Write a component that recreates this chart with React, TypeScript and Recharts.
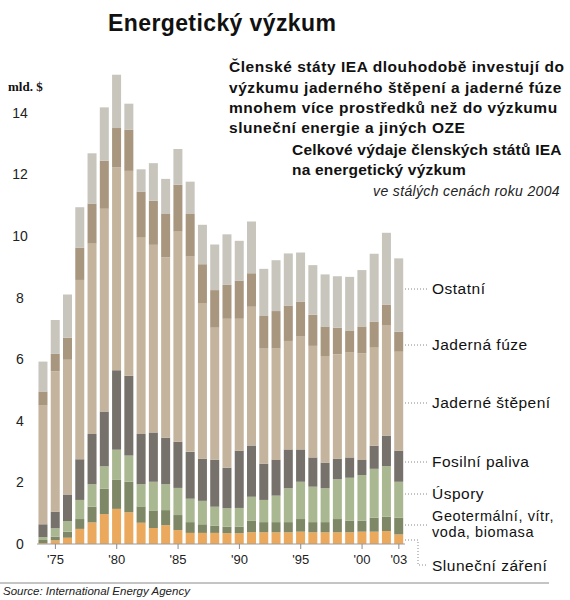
import React from "react";
import { BarChart, Bar, XAxis, YAxis } from "recharts";

const years = [1974,1975,1976,1977,1978,1979,1980,1981,1982,1983,1984,1985,1986,1987,1988,1989,1990,1991,1992,1993,1994,1995,1996,1997,1998,1999,2000,2001,2002,2003];

const slunecni = [0.03,0.12,0.20,0.49,0.70,0.97,1.14,1.03,0.69,0.52,0.61,0.45,0.36,0.36,0.36,0.35,0.35,0.38,0.38,0.38,0.38,0.40,0.38,0.38,0.38,0.38,0.40,0.40,0.42,0.31];
const geotermalni = [0.10,0.12,0.20,0.32,0.51,0.82,0.94,0.99,0.53,0.57,0.49,0.49,0.35,0.28,0.23,0.21,0.21,0.38,0.33,0.33,0.33,0.41,0.33,0.33,0.43,0.38,0.36,0.45,0.47,0.54];
const uspory = [0.09,0.27,0.35,0.62,0.73,0.73,0.98,0.85,0.72,0.93,0.84,0.88,0.76,0.76,0.62,0.60,0.61,0.77,0.72,0.86,1.10,1.21,1.15,1.10,1.29,1.39,1.48,1.59,1.64,1.17];
const fosilni = [0.42,0.54,0.86,1.32,1.63,1.78,2.58,2.59,1.63,1.60,1.51,1.50,1.52,1.37,1.53,1.32,1.86,1.67,1.18,1.16,1.26,1.05,0.95,0.83,0.67,0.66,0.49,0.75,0.99,1.01];
const stepeni = [3.86,4.55,4.37,5.82,6.18,6.58,6.58,6.65,6.39,6.09,5.85,6.82,6.34,5.05,4.28,4.83,4.28,4.50,3.73,3.62,3.52,3.66,3.62,3.46,3.39,3.41,3.46,3.20,3.57,3.21];
const fuze = [0.45,0.57,0.71,1.05,1.30,1.56,1.28,1.34,1.48,1.43,1.41,1.52,1.38,1.26,1.22,1.10,1.24,1.09,1.06,1.21,1.15,1.14,1.01,0.96,0.86,0.71,0.87,0.83,0.67,0.65];
const ostatni = [0.97,1.10,1.41,1.31,1.63,1.73,1.73,0.84,0.72,1.22,1.14,1.16,1.05,1.28,1.48,1.64,1.29,1.68,1.53,1.65,1.69,1.59,1.61,1.69,1.67,1.74,1.83,2.20,2.34,2.38];

const yTicks = [0, 2, 4, 6, 8, 10, 12, 14];
const xTickYears = [1975, 1980, 1985, 1990, 1995, 2000, 2003];
const xTickLabels = ["'75", "'80", "'85", "'90", "'95", "'00", "'03"];

const data = years.map((y, i) => ({
  year: y,
  slunecni: slunecni[i],
  geotermalni: geotermalni[i],
  uspory: uspory[i],
  fosilni: fosilni[i],
  stepeni: stepeni[i],
  fuze: fuze[i],
  ostatni: ostatni[i],
}));

const FONT = "'Liberation Sans', Arial, Helvetica, sans-serif";

const XTick = (props: any) => {
  const { x, payload } = props;
  const idx = xTickYears.indexOf(payload.value);
  if (idx < 0) return null;
  return (
    <g>
      <line x1={x} x2={x} y1={544} y2={549} stroke="#8a8a8a" strokeWidth={1} />
      <text x={x} y={564} textAnchor="middle" fontSize={13} fill="#222" fontFamily={FONT}>
        {xTickLabels[idx]}
      </text>
    </g>
  );
};

const YTick = (props: any) => {
  const { y, payload } = props;
  return (
    <text x={20} y={y + 5} textAnchor="middle" fontSize={14} fill="#222" fontFamily={FONT}>
      {payload.value}
    </text>
  );
};

const legendItems = [
  { label: "Ostatní", y: 289 },
  { label: "Jaderná fúze", y: 345 },
  { label: "Jaderné štěpení", y: 403 },
  { label: "Fosilní paliva", y: 462 },
  { label: "Úspory", y: 494 },
];

export default function App() {
  return (
    <div style={{ position: "absolute", left: 0, top: 0, width: 570, height: 600, background: "#fff" }}>
      <div style={{ position: "absolute", left: 0, top: 0 }}>
        <BarChart
          width={570}
          height={600}
          data={data}
          margin={{ top: 51, right: 165, bottom: 26, left: 0 }}
          barCategoryGap="12%"
        >
          <YAxis
            width={37}
            domain={[0, 16]}
            ticks={yTicks}
            axisLine={false}
            tickLine={false}
            tick={<YTick />}
            interval={0}
          />
          <XAxis
            dataKey="year"
            height={30}
            interval={0}
            tickLine={false}
            axisLine={{ stroke: "#9a9a9a", strokeWidth: 1 }}
            tick={<XTick />}
          />
          <Bar dataKey="slunecni" stackId="a" fill="#EBA95E" isAnimationActive={false} />
          <Bar dataKey="geotermalni" stackId="a" fill="#7E8866" isAnimationActive={false} />
          <Bar dataKey="uspory" stackId="a" fill="#AAB891" isAnimationActive={false} />
          <Bar dataKey="fosilni" stackId="a" fill="#76716A" isAnimationActive={false} />
          <Bar dataKey="stepeni" stackId="a" fill="#C5B49D" isAnimationActive={false} />
          <Bar dataKey="fuze" stackId="a" fill="#A8967E" isAnimationActive={false} />
          <Bar dataKey="ostatni" stackId="a" fill="#C8C5BD" isAnimationActive={false} />
        </BarChart>
      </div>
      <svg
        width={570}
        height={600}
        style={{ position: "absolute", left: 0, top: 0, pointerEvents: "none" }}
        fontFamily={FONT}
      >
        <text x={108} y={31} fontSize={23} fontWeight="bold" fill="#111" letterSpacing={0.4}>Energetický výzkum</text>
        <text x={8} y={91} fontSize={13} fontWeight="bold" fill="#111" fontFamily="'Liberation Serif', 'Times New Roman', serif">mld. $</text>

        <g fontSize={15.5} fontWeight="bold" fill="#111" letterSpacing={0.55}>
          <text x={229} y={72}>Členské státy IEA dlouhodobě investují do</text>
          <text x={229} y={92.5}>výzkumu jaderného štěpení a jaderné fúze</text>
          <text x={229} y={113}>mnohem více prostředků než do výzkumu</text>
          <text x={229} y={133}>sluneční energie a jiných OZE</text>
        </g>
        <g fontSize={15.5} fontWeight="bold" fill="#111" letterSpacing={0.2}>
          <text x={292} y={155}>Celkové výdaje členských států IEA</text>
          <text x={292} y={175}>na energetický výzkum</text>
        </g>
        <text x={560} y={196} textAnchor="end" fontSize={14} fontStyle="italic" fill="#222" letterSpacing={0.35}>ve stálých cenách roku 2004</text>

        <g fontSize={15.5} fill="#111" letterSpacing={0.5}>
          {legendItems.map((it) => (
            <g key={it.label}>
              <line x1={405} x2={428} y1={it.y} y2={it.y} stroke="#888" strokeDasharray="1 2" />
              <text x={432} y={it.y + 5}>{it.label}</text>
            </g>
          ))}
        </g>
        <g fontSize={14.5} fill="#111" letterSpacing={0.6}>
          <line x1={405} x2={428} y1={525} y2={525} stroke="#888" strokeDasharray="1 2" />
          <text x={432} y={521}>Geotermální, vítr,</text>
          <text x={432} y={537}>voda, biomasa</text>
        </g>
        <g fontSize={15.5} fill="#111" letterSpacing={0.5}>
          <path d="M405 540 H418 V565 H428" fill="none" stroke="#888" strokeDasharray="1 2" />
          <text x={432} y={571}>Sluneční záření</text>
        </g>

        <line x1={0} x2={549} y1={583} y2={583} stroke="#8a8a8a" strokeWidth={1} />
        <text x={3} y={595} fontSize={11.5} fontStyle="italic" fill="#222">Source: International Energy Agency</text>
      </svg>
    </div>
  );
}
